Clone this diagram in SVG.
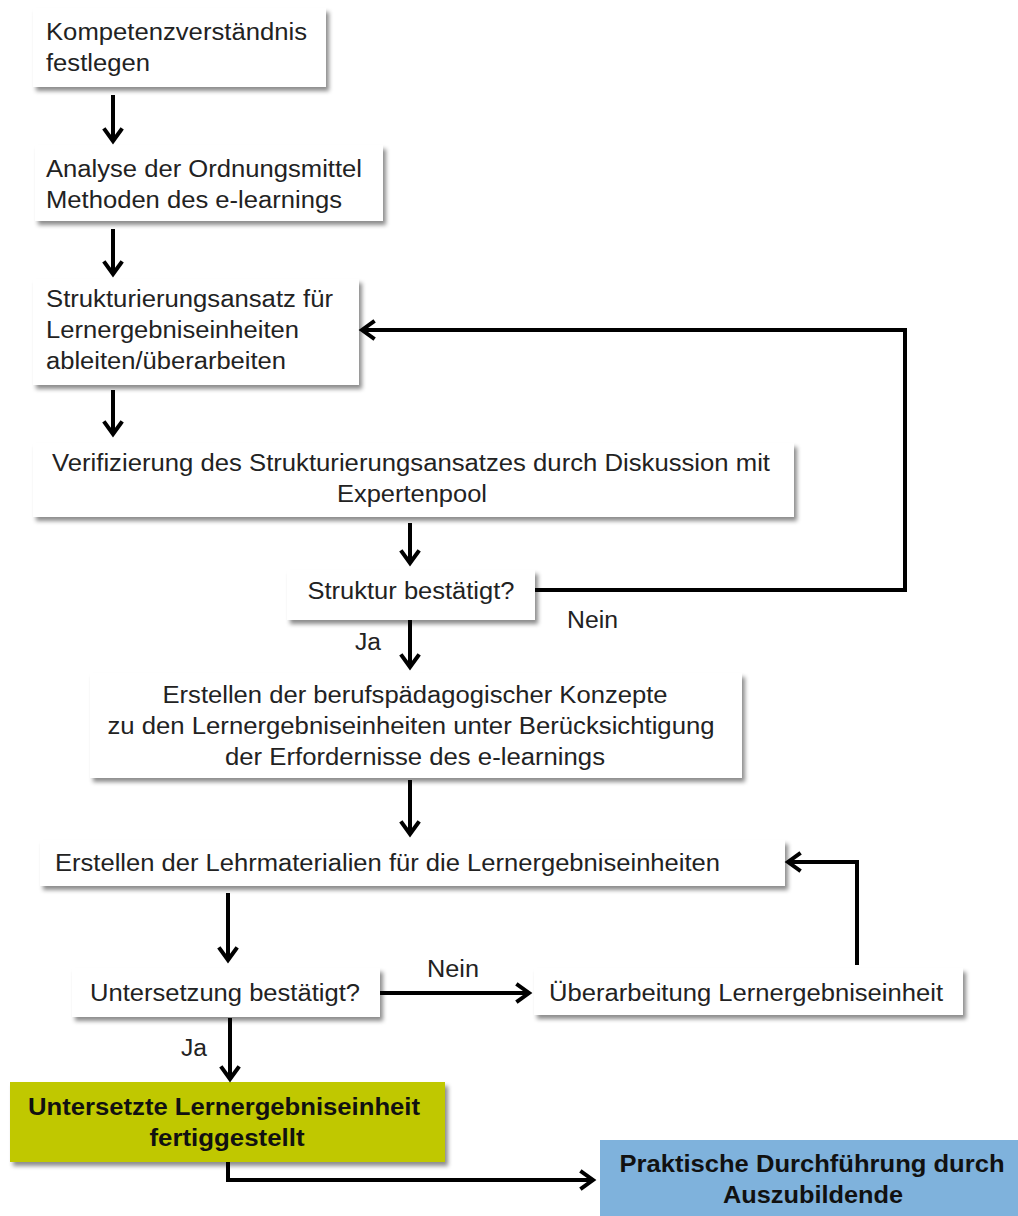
<svg xmlns="http://www.w3.org/2000/svg" width="1018" height="1216" viewBox="0 0 1018 1216">
<style>
.box{fill:#fff;filter:url(#sh)}
.t{font-family:"Liberation Sans",Arial,sans-serif;font-size:23px;fill:#222}
.c{text-anchor:middle}
.b{font-weight:bold;font-size:23px;fill:#111}
.con{fill:none;stroke:#000;stroke-width:4;marker-end:url(#ah)}
</style>
<defs>
<filter id="sh" x="-10%" y="-20%" width="120%" height="150%">
<feDropShadow dx="3" dy="4" stdDeviation="2" flood-color="#000" flood-opacity="0.45"/>
</filter>
<marker id="ah" markerUnits="userSpaceOnUse" markerWidth="20" markerHeight="24" refX="14" refY="10" orient="auto" viewBox="0 0 20 20">
<path d="M3,2 L14,10 L3,18" fill="none" stroke="#000" stroke-width="4" stroke-linecap="square"/>
</marker>
</defs>
<rect width="1018" height="1216" fill="#fff"/>
<g id="n1"><rect class="box" x="33" y="8" width="293" height="79"/><text class="t" x="46" y="40" textLength="261" lengthAdjust="spacingAndGlyphs">Kompetenzverständnis</text><text class="t" x="46" y="71" textLength="104" lengthAdjust="spacingAndGlyphs">festlegen</text></g>
<g id="n2"><rect class="box" x="35" y="145" width="348" height="76"/><text class="t" x="46" y="177" textLength="316" lengthAdjust="spacingAndGlyphs">Analyse der Ordnungsmittel</text><text class="t" x="46" y="208" textLength="296" lengthAdjust="spacingAndGlyphs">Methoden des e-learnings</text></g>
<g id="n3"><rect class="box" x="33" y="279" width="326" height="106"/><text class="t" x="46" y="307" textLength="287" lengthAdjust="spacingAndGlyphs">Strukturierungsansatz für</text><text class="t" x="46" y="338" textLength="253" lengthAdjust="spacingAndGlyphs">Lernergebniseinheiten</text><text class="t" x="46" y="369" textLength="240" lengthAdjust="spacingAndGlyphs">ableiten/überarbeiten</text></g>
<g id="n4"><rect class="box" x="33" y="443" width="761" height="74"/><text class="t c" x="411" y="471" textLength="718" lengthAdjust="spacingAndGlyphs">Verifizierung des Strukturierungsansatzes durch Diskussion mit</text><text class="t c" x="412" y="502" textLength="150" lengthAdjust="spacingAndGlyphs">Expertenpool</text></g>
<g id="n5"><rect class="box" x="287" y="570" width="248" height="50"/><text class="t c" x="411" y="599" textLength="207" lengthAdjust="spacingAndGlyphs">Struktur bestätigt?</text></g>
<g id="n6"><rect class="box" x="90" y="673" width="652" height="105"/><text class="t c" x="415" y="703" textLength="505" lengthAdjust="spacingAndGlyphs">Erstellen der berufspädagogischer Konzepte</text><text class="t c" x="411" y="734" textLength="607" lengthAdjust="spacingAndGlyphs">zu den Lernergebniseinheiten unter Berücksichtigung</text><text class="t c" x="415" y="765" textLength="380" lengthAdjust="spacingAndGlyphs">der Erfordernisse des e-learnings</text></g>
<g id="n7"><rect class="box" x="40" y="840" width="745" height="46"/><text class="t" x="55" y="871" textLength="665" lengthAdjust="spacingAndGlyphs">Erstellen der Lehrmaterialien für die Lernergebniseinheiten</text></g>
<g id="n8"><rect class="box" x="72" y="968" width="308" height="49"/><text class="t" x="90" y="1001" textLength="270" lengthAdjust="spacingAndGlyphs">Untersetzung bestätigt?</text></g>
<g id="n9"><rect class="box" x="534" y="968" width="429" height="47"/><text class="t" x="549" y="1001" textLength="394" lengthAdjust="spacingAndGlyphs">Überarbeitung Lernergebniseinheit</text></g>
<g id="n10"><rect x="10" y="1082" width="435" height="80" fill="#c0c800" filter="url(#sh)"/><text class="t c b" x="224" y="1115" textLength="392" lengthAdjust="spacingAndGlyphs">Untersetzte Lernergebniseinheit</text><text class="t c b" x="227" y="1146" textLength="155" lengthAdjust="spacingAndGlyphs">fertiggestellt</text></g>
<g id="n11"><rect x="600" y="1140" width="418" height="76" fill="#7fb2dc"/><text class="t c b" x="812" y="1172" textLength="385" lengthAdjust="spacingAndGlyphs">Praktische Durchführung durch</text><text class="t c b" x="813" y="1203" textLength="180" lengthAdjust="spacingAndGlyphs">Auszubildende</text></g>
<g id="connectors">
<line class="con" x1="113" y1="95" x2="113" y2="141"/>
<line class="con" x1="113" y1="229" x2="113" y2="274"/>
<line class="con" x1="113" y1="390" x2="113" y2="434"/>
<line class="con" x1="410" y1="523" x2="410" y2="563"/>
<line class="con" x1="410" y1="620" x2="410" y2="667"/>
<polyline class="con" points="535,590 905,590 905,330 362,330"/>
<line class="con" x1="410" y1="780" x2="410" y2="834"/>
<line class="con" x1="228" y1="893" x2="228" y2="960"/>
<line class="con" x1="380" y1="993" x2="529" y2="993"/>
<polyline class="con" points="857,965 857,862 788,862"/>
<line class="con" x1="230" y1="1018" x2="230" y2="1079"/>
<polyline class="con" points="228,1162 228,1180 593,1180"/>
</g>
<text class="t" x="355" y="650" textLength="26" lengthAdjust="spacingAndGlyphs">Ja</text>
<text class="t" x="567" y="628" textLength="51" lengthAdjust="spacingAndGlyphs">Nein</text>
<text class="t" x="427" y="977" textLength="52" lengthAdjust="spacingAndGlyphs">Nein</text>
<text class="t" x="181" y="1056" textLength="26" lengthAdjust="spacingAndGlyphs">Ja</text>
</svg>
